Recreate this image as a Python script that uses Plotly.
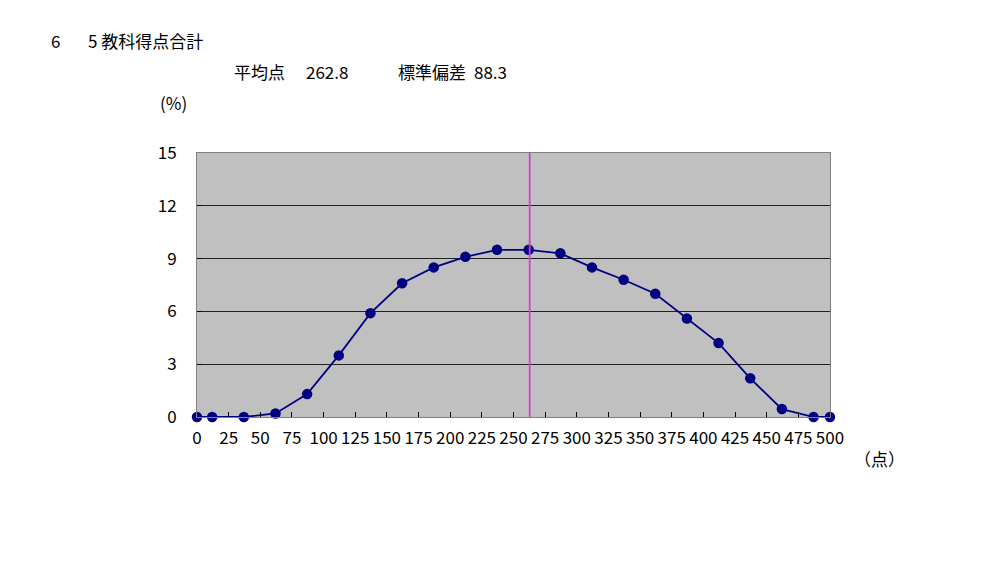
import plotly.graph_objects as go

# 5教科得点合計の分布 (%)
scores = [0, 12, 37, 62, 87, 112, 137, 162, 187, 212, 237,
          262, 287, 312, 337, 362, 387, 412, 437, 462, 487, 500]
percent = [0, 0, 0, 0.2, 1.3, 3.5, 5.9, 7.6, 8.5, 9.1, 9.5,
           9.5, 9.3, 8.5, 7.8, 7.0, 5.6, 4.2, 2.2, 0.45, 0, 0]
x_ticks = list(range(0, 501, 25))
y_ticks = [0, 3, 6, 9, 12, 15]
mean_score = 262.8
std_dev = 88.3

FONT = "Noto Sans CJK JP"
OFF = 8  # ページ余白ぶんずらす
W, H = 985 - OFF, 567 - OFF
L, R, T, B = 197 - OFF, 830 - OFF, 153 - OFF, 417 - OFF


def px_x(p):
    return (p - OFF - L) / (R - L)


def px_y(p):
    return (B - (p - OFF)) / (B - T)


fig = go.Figure()
fig.add_trace(go.Scatter(
    x=scores, y=percent, mode="lines+markers",
    line=dict(color="#000080", width=1.8),
    marker=dict(color="#000080", size=10.5),
    cliponaxis=False, showlegend=False,
))

fig.add_shape(type="line", x0=mean_score, x1=mean_score, y0=0, y1=1,
              xref="x", yref="paper", line=dict(color="#D040D0", width=1.8))

texts = [
    ("6", 49, 41),
    ("5 教科得点合計", 86, 41),
    ("平均点", 232, 72),
    (f"{mean_score}", 304, 72),
    ("標準偏差", 396, 72),
    (f"{std_dev}", 472, 72),
    ("(%)", 158, 103),
    ("（点）", 852, 458),
]
for t, x, y in texts:
    fig.add_annotation(text=t, x=px_x(x), y=px_y(y), xref="paper", yref="paper",
                       xanchor="left", yanchor="middle", showarrow=False,
                       font=dict(family=FONT, size=17, color="black"))

fig.update_layout(
    width=W, height=H,
    margin=dict(l=L, r=W - R, t=T, b=H - B),
    paper_bgcolor="white", plot_bgcolor="#C0C0C0",
    font=dict(family=FONT, size=17, color="black"),
)
fig.update_xaxes(
    range=[0, 500], tickvals=x_ticks, tickangle=0, showgrid=False, zeroline=False,
    ticks="inside", ticklen=5, tickcolor="black",
    showline=True, linecolor="#808080", linewidth=1, mirror=True,
    tickfont=dict(family=FONT, size=17), ticklabelstandoff=6,
)
fig.update_yaxes(
    range=[0, 15], tickvals=y_ticks, showgrid=True, gridcolor="#202020", gridwidth=1,
    zeroline=False, ticks="inside", ticklen=4, tickcolor="black",
    showline=True, linecolor="#808080", linewidth=1, mirror=True,
    tickfont=dict(family=FONT, size=17), ticklabelstandoff=16,
)

fig.write_html("out.html")
